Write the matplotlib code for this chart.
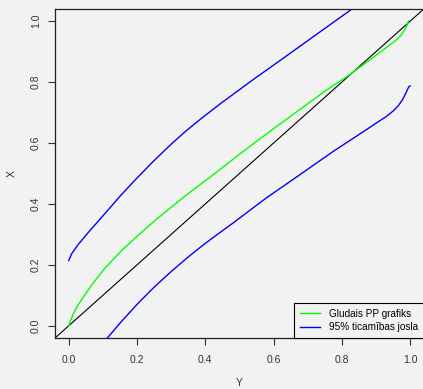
import matplotlib
matplotlib.use("Agg")
import matplotlib.pyplot as plt

# values
green_x = [0.0, 0.004, 0.012, 0.025, 0.045, 0.070, 0.106, 0.155, 0.204, 0.253, 0.301, 0.350,
           0.428, 0.50, 0.589, 0.677, 0.75, 0.82, 0.86, 0.90, 0.93, 0.955, 0.972, 0.983, 0.99, 0.995]
green_y = [0.0, 0.013, 0.036, 0.064, 0.098, 0.138, 0.189, 0.247, 0.298, 0.346, 0.390, 0.434,
           0.500, 0.563, 0.638, 0.710, 0.770, 0.822, 0.855, 0.888, 0.913, 0.934, 0.952, 0.970, 0.985, 1.0]

upper_x = [0.0, 0.009, 0.028, 0.057, 0.087, 0.116, 0.150, 0.194, 0.248, 0.30, 0.345, 0.39,
           0.443, 0.540, 0.638, 0.735, 0.83]
upper_y = [0.214, 0.237, 0.267, 0.306, 0.344, 0.381, 0.425, 0.478, 0.540, 0.596, 0.641, 0.682,
           0.728, 0.808, 0.886, 0.964, 1.04]

lower_x = [0.114, 0.155, 0.204, 0.253, 0.301, 0.350, 0.39, 0.428, 0.482, 0.579, 0.677, 0.774,
           0.872, 0.90, 0.93, 0.95, 0.965, 0.978, 0.987, 0.993, 0.997, 1.0]
lower_y = [-0.039, 0.015, 0.075, 0.130, 0.179, 0.226, 0.262, 0.294, 0.338, 0.420, 0.496, 0.572,
           0.644, 0.665, 0.687, 0.705, 0.722, 0.743, 0.763, 0.778, 0.786, 0.787]

ticks = [0.0, 0.2, 0.4, 0.6, 0.8, 1.0]
tick_labels = ["0.0", "0.2", "0.4", "0.6", "0.8", "1.0"]

bg = "#f2f2f2"
plt.rcParams['font.family'] = ['Liberation Sans', 'DejaVu Sans']

fig = plt.figure(figsize=(4.23, 3.89), dpi=100, facecolor=bg)
ax = fig.add_axes([0.130, 0.131, 0.872, 0.846], facecolor=bg)

ax.plot([-0.04, 1.04], [-0.04, 1.04], color="black", lw=0.8)
ax.plot(green_x, green_y, color="#00ff00", lw=1.0, label="Gludais PP grafiks")
ax.plot(upper_x, upper_y, color="#0000ff", lw=1.0, label="95% ticamības josla")
ax.plot(lower_x, lower_y, color="#0000ff", lw=1.0)

ax.set_xlim(-0.04, 1.04)
ax.set_ylim(-0.04, 1.04)
ax.set_xticks(ticks)
ax.set_xticklabels(tick_labels)
ax.set_yticks(ticks)
ax.set_yticklabels(tick_labels, rotation=90, va="center")
ax.tick_params(length=5, width=0.8, labelsize=7.5, color="#333333", labelcolor="#333333")
ax.tick_params(axis="x", pad=7)
ax.tick_params(axis="y", pad=5)

for s in ax.spines.values():
    s.set_linewidth(0.9)
    s.set_color("#222222")

ax.set_xlabel("Y", fontsize=7.5, color="#333333", va="center")
ax.set_ylabel("X", fontsize=7.5, color="#333333", va="center")
ax.xaxis.set_label_coords(0.5, -0.137)
ax.yaxis.set_label_coords(-0.1165, 0.5)

leg = ax.legend(loc="lower right", bbox_to_anchor=(1.0, 0.0), borderaxespad=0,
                fontsize=7.2, fancybox=False, edgecolor="black", facecolor=bg,
                framealpha=1, handlelength=2.0, handletextpad=0.9,
                labelspacing=0.35, borderpad=0.6)
leg.get_frame().set_linewidth(0.8)

fig.savefig("out.png", dpi=100, facecolor=bg)
